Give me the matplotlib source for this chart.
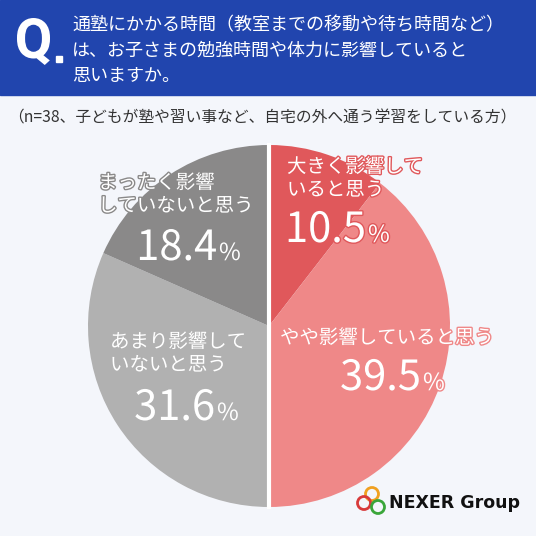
import matplotlib
matplotlib.use("Agg")
import matplotlib.pyplot as plt
import matplotlib.patheffects as pe
from matplotlib.patches import Rectangle, Circle, PathPatch
from matplotlib.textpath import TextPath
from matplotlib.font_manager import FontProperties
from matplotlib.transforms import Affine2D

plt.rcParams['font.family'] = ['Noto Sans CJK JP', 'DejaVu Sans']

# data
question = ["通塾にかかる時間（教室までの移動や待ち時間など）",
            "は、お子さまの勉強時間や体力に影響していると",
            "思いますか。"]
subtitle = "（n=38、子どもが塾や習い事など、自宅の外へ通う学習をしている方）"
labels = ["大きく影響して\nいると思う", "やや影響していると思う",
          "あまり影響して\nいないと思う", "まったく影響\nしていないと思う"]
values = [10.5, 39.5, 31.6, 18.4]
colors = ["#e0585b", "#ef8888", "#b1b1b1", "#8a8989"]

# label layout (pixels): text left x, first line y, number end x, number baseline y
label_pos = [(287, 167, 366, 242),
             (280, 338, 421, 390),
             (110, 342, 215, 420),
             (98, 183, 217, 260)]

fig = plt.figure(figsize=(5.36, 5.36), dpi=100)
fig.patch.set_facecolor("#f4f6fb")
ax = fig.add_axes([0, 0, 1, 1])

# pie: center and radius in pixels, y axis flipped below
cx, cy, r = 269, 326, 181
ax.pie(values, colors=colors, startangle=-90, counterclock=True,
       center=(cx, cy), radius=r, wedgeprops=dict(linewidth=0))
ax.plot([cx, cx], [cy - r - 2, cy + r + 2], color="white", lw=3, solid_capstyle="butt")

ax.set_xlim(0, 536)
ax.set_ylim(536, 0)
ax.set_aspect("auto")
ax.axis("off")

# header band
ax.add_patch(Rectangle((0, 0), 536, 95, color="#2145ae", zorder=0))

# big "Q", squeezed into its box
qpath = TextPath((0, 0), "Q", size=60, prop=FontProperties(family="Roboto", weight="bold"))
ext = qpath.get_extents()
x0, x1, y0, y1 = 17, 50, 18, 65
sx = (x1 - x0) / ext.width
sy = (y1 - y0) / ext.height
qtrans = Affine2D().translate(-ext.x0, -ext.y1).scale(sx, -sy).translate(x0, y0)
ax.add_patch(PathPatch(qtrans.transform_path(qpath), facecolor="white", edgecolor="none", zorder=3))
ax.add_patch(Rectangle((56, 56), 6, 6, color="white", zorder=3))

for i, line in enumerate(question):
    ax.text(72, [25, 51, 76][i], line, color="white", fontsize=13,
            va="center", ha="left")

ax.text(262, 118, subtitle, color="#333333", fontsize=11.3, va="center", ha="center")

# slice labels
for lab, val, col, (tx, ty, nx, ny) in zip(labels, values, colors, label_pos):
    stroke = [pe.Stroke(linewidth=2, foreground=col), pe.Normal()]
    for j, line in enumerate(lab.split("\n")):
        ax.text(tx, ty + j * 23, line, color="white", fontsize=14,
                va="center", ha="left", path_effects=stroke)
    ax.text(nx, ny, f"{val:.1f}", color="white", fontsize=30,
            va="baseline", ha="right", path_effects=stroke)
    ax.text(nx + 2, ny, "%", color="white", fontsize=17,
            va="baseline", ha="left", path_effects=stroke)

# logo
for (lx, ly, lc) in [(372, 494, "#f0a020"), (364, 503, "#d83a3a"), (378, 507, "#3aa63a")]:
    ax.add_patch(Circle((lx, ly), 6.5, fill=False, edgecolor=lc, linewidth=2))
ax.text(389, 503, "NEXER Group", color="#111111", fontsize=12.5, fontweight="bold",
        family="DejaVu Sans", va="center", ha="left")

fig.savefig("out.png", dpi=100, facecolor=fig.get_facecolor())
